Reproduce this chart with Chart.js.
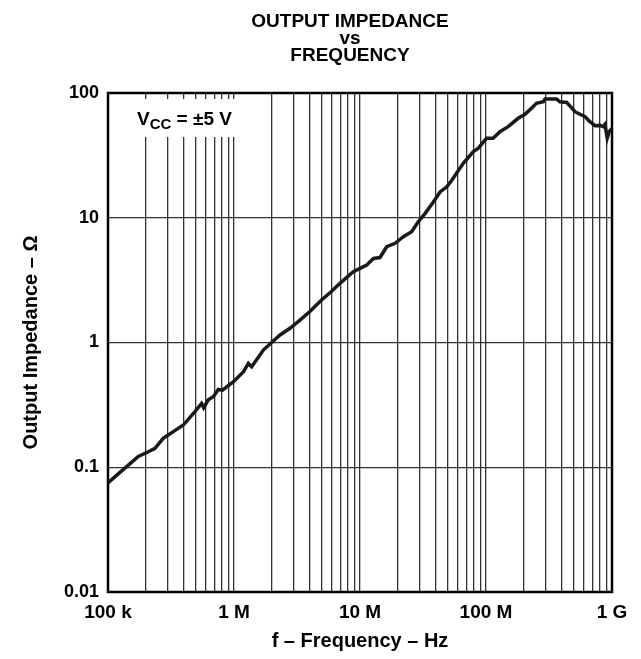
<!DOCTYPE html>
<html>
<head>
<meta charset="utf-8">
<script src="https://cdn.jsdelivr.net/npm/chart.js@4.4.1/dist/chart.umd.min.js"></script>
<style>
  body { margin: 0; background: #fff; }
  canvas { display: block; }
</style>
</head>
<body>
<canvas id="grafica" width="641" height="659"></canvas>
<script>
// valores (Hz, ohm)
const frecuencias = [
  1.0e5, 1.2e5, 1.45e5, 1.74e5, 2.09e5, 2.36e5, 2.75e5, 3.3e5, 3.96e5, 4.9e5,
  5.53e5, 5.75e5, 6.25e5, 6.85e5, 7.5e5, 8.1e5, 9.9e5, 1.19e6, 1.3e6, 1.38e6,
  1.71e6, 1.99e6, 2.32e6, 2.78e6, 3.34e6, 4.0e6, 4.95e6, 5.9e6, 6.93e6, 8.85e6,
  1.0e7, 1.13e7, 1.28e7, 1.44e7, 1.63e7, 1.9e7, 2.21e7, 2.57e7, 2.9e7, 3.28e7,
  3.82e7, 4.32e7, 4.88e7, 5.35e7, 6.6e7, 7.94e7, 8.7e7, 1.01e8, 1.14e8, 1.29e8,
  1.5e8, 1.8e8, 2.04e8, 2.29e8, 2.51e8, 2.85e8, 2.94e8, 3.63e8, 3.86e8, 4.37e8,
  5.08e8, 5.57e8, 6.11e8, 6.68e8, 7.33e8, 8.04e8, 8.51e8, 8.79e8, 9.16e8, 9.5e8,
  1.0e9
];
const impedancias = [
  0.075, 0.088, 0.104, 0.122, 0.133, 0.142, 0.171, 0.193, 0.218, 0.279,
  0.325, 0.30, 0.347, 0.368, 0.42, 0.415, 0.485, 0.583, 0.68, 0.64,
  0.87, 1.0, 1.15, 1.3, 1.51, 1.77, 2.19, 2.55, 2.98, 3.69,
  3.93, 4.18, 4.72, 4.8, 5.86, 6.24, 7.05, 7.73, 9.29, 10.8,
  13.4, 16.1, 17.7, 20.0, 27.3, 33.9, 36.1, 43.4, 43.4, 49,
  53.7, 62.7, 67.5, 75.3, 82.6, 85, 89.6, 89.6, 85, 84,
  70.8, 67.5, 64.5, 58.9, 54.7, 55, 53.7, 56, 43.4, 49,
  52
];

const xTicksValores = [1e5, 1e6, 1e7, 1e8, 1e9];
const xTicksTexto = ["100 k", "1 M", "10 M", "100 M", "1 G"];
const yTicksValores = [0.01, 0.1, 1, 10, 100];
const yTicksTexto = ["0.01", "0.1", "1", "10", "100"];

// lineas de la grilla vertical: 1..9 por cada decada
const xGrilla = [];
xTicksValores.forEach((d, i) => {
  xGrilla.push(d);
  if (i < xTicksValores.length - 1) {
    for (let m = 2; m <= 9; m++) xGrilla.push(m * d);
  }
});

const fuente = '"Liberation Sans", Arial, sans-serif';

function etiqueta(valores, textos, v) {
  const i = valores.findIndex((t) => Math.abs(t - v) / t < 1e-6);
  return i >= 0 ? textos[i] : "";
}

const extras = {
  id: "extras",
  beforeDatasetsDraw(chart) {
    const { ctx, chartArea: a } = chart;
    ctx.save();
    // caja blanca detras del texto Vcc
    ctx.fillStyle = "#fff";
    ctx.fillRect(a.left + 2, a.top + 6, 150, 38);
    ctx.fillStyle = "#000";
    ctx.textBaseline = "alphabetic";
    ctx.textAlign = "left";
    let x = a.left + 29;
    const y = a.top + 32;
    ctx.font = "bold 19px " + fuente;
    ctx.fillText("V", x, y);
    x += ctx.measureText("V").width;
    ctx.font = "bold 15px " + fuente;
    ctx.fillText("CC", x, y + 4);
    x += ctx.measureText("CC").width;
    ctx.font = "bold 19px " + fuente;
    ctx.fillText(" = \u00b15 V", x, y);
    // marco
    ctx.strokeStyle = "#000";
    ctx.lineWidth = 2.5;
    ctx.strokeRect(a.left, a.top, a.right - a.left, a.bottom - a.top);
    ctx.restore();
  },
  afterDraw(chart) {
    const { ctx } = chart;
    ctx.save();
    ctx.fillStyle = "#000";
    ctx.textAlign = "center";
    ctx.textBaseline = "middle";
    ctx.font = "bold 19px " + fuente;
    ctx.fillText("OUTPUT IMPEDANCE", 350, 22);
    ctx.fillText("vs", 350, 39);
    ctx.fillText("FREQUENCY", 350, 56);
    ctx.restore();
  },
};

const datos = frecuencias.map((f, i) => ({ x: f, y: impedancias[i] }));

new Chart(document.getElementById("grafica"), {
  type: "line",
  data: {
    datasets: [
      {
        data: datos,
        borderColor: "#1a1a1a",
        borderWidth: 3.5,
        pointRadius: 0,
        tension: 0,
        fill: false,
      },
    ],
  },
  options: {
    responsive: false,
    animation: false,
    devicePixelRatio: 1,
    layout: { padding: { top: 93, right: 29, left: 0, bottom: 0 } },
    plugins: { legend: { display: false }, tooltip: { enabled: false } },
    scales: {
      x: {
        type: "logarithmic",
        min: 1e5,
        max: 1e9,
        afterBuildTicks: (eje) => {
          eje.ticks = xGrilla.map((v) => ({ value: v }));
        },
        afterFit: (eje) => {
          eje.height = 659 - 592;
        },
        ticks: {
          autoSkip: false,
          maxRotation: 0,
          padding: 9,
          color: "#000",
          font: { family: fuente, size: 19, weight: "bold" },
          callback: (v) => etiqueta(xTicksValores, xTicksTexto, v),
        },
        grid: { color: "#333", lineWidth: 1.3, drawTicks: false },
        border: { display: false },
        title: {
          display: true,
          text: "f \u2013 Frequency \u2013 Hz",
          color: "#000",
          font: { family: fuente, size: 20, weight: "bold" },
          padding: { top: 0, bottom: 6 },
        },
      },
      y: {
        type: "logarithmic",
        min: 0.01,
        max: 100,
        afterBuildTicks: (eje) => {
          eje.ticks = yTicksValores.map((v) => ({ value: v }));
        },
        afterFit: (eje) => {
          eje.width = 108;
        },
        ticks: {
          autoSkip: false,
          padding: 9,
          color: "#000",
          font: { family: fuente, size: 18, weight: "bold" },
          callback: (v) => etiqueta(yTicksValores, yTicksTexto, v),
        },
        grid: { color: "#333", lineWidth: 1.3, drawTicks: false },
        border: { display: false },
        title: {
          display: true,
          text: "Output Impedance \u2013 \u03a9",
          color: "#000",
          font: { family: fuente, size: 20, weight: "bold" },
          padding: { top: 19, bottom: 0 },
        },
      },
    },
  },
  plugins: [extras],
});
</script>
</body>
</html>
